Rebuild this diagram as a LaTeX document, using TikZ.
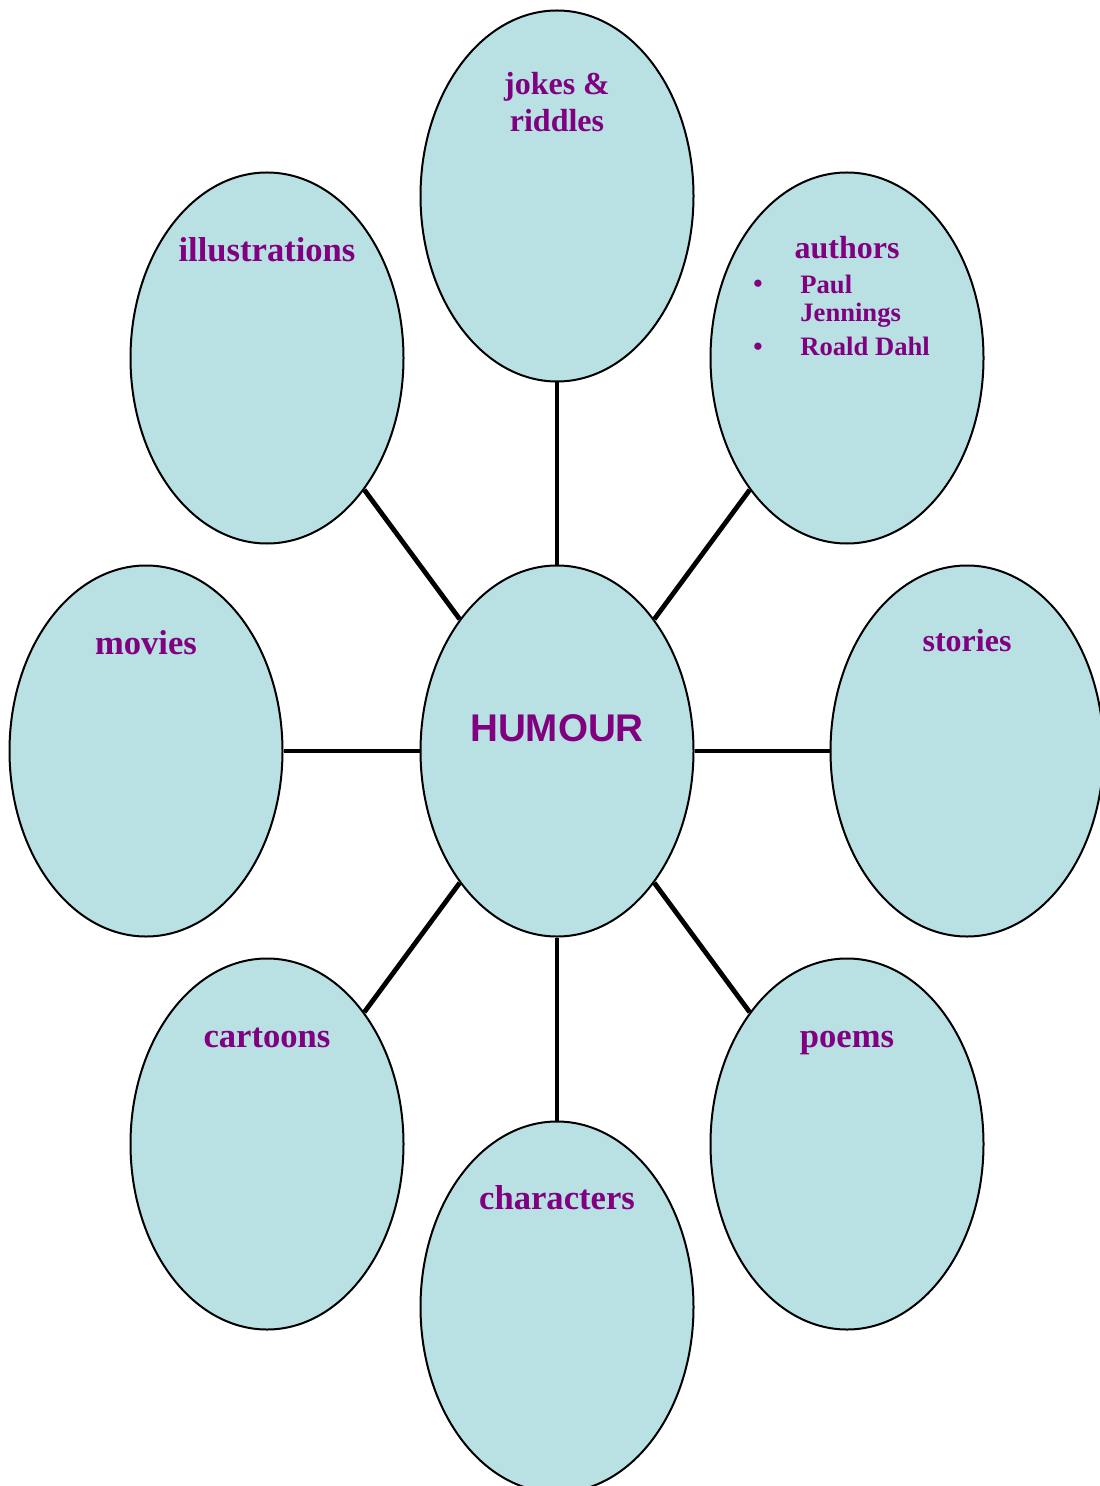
\documentclass[tikz,border=0pt]{standalone}
\usepackage{fontspec}
\usepackage{tikz}
\usepackage{xcolor}
\usetikzlibrary{positioning, shapes.geometric}
\setmainfont{Liberation Serif}
\setsansfont{Liberation Sans}
\definecolor{wbfill}{RGB}{185, 224, 227}
\definecolor{wbpurple}{RGB}{128, 0, 128}
\tikzset{
    wbnode/.style={ellipse, draw, line width=1pt, fill=wbfill, minimum width=136.5pt, minimum height=185.5pt, inner sep=0pt},
    wbtext/.style={anchor=base, align=center, text=wbpurple, font=\fontsize{16}{18.5}\selectfont\bfseries},
    wbbig/.style={wbtext, font=\fontsize{17.3}{20}\selectfont\bfseries},
    wbitem/.style={anchor=base west, align=left, inner sep=0pt, text=wbpurple, font=\fontsize{13.3}{14.2}\selectfont\bfseries},
    hubtext/.style={anchor=base, text=wbpurple, font=\fontsize{19.3}{22}\selectfont\sffamily\bfseries},
    spoke/.style={line width=2.4pt}
}

\begin{document}
\begin{tikzpicture}[x=0.5pt, y=-0.5pt]
    \useasboundingbox (0,0) rectangle (1099,1486);
    % bubbles
    \node[wbnode] (hum) at (557,751) {};
    \node[wbnode] (jok) at (557,196) {};
    \node[wbnode] (ill) at (267,358) {};
    \node[wbnode] (aut) at (847,358) {};
    \node[wbnode] (mov) at (146,751) {};
    \node[wbnode] (sto) at (967,751) {};
    \node[wbnode] (car) at (267,1144) {};
    \node[wbnode] (poe) at (847,1144) {};
    \node[wbnode] (cha) at (557,1307) {};
    % spokes
    \foreach \n in {jok, ill, aut, mov, sto, car, poe, cha}
        \draw[spoke] (hum) -- (\n);
    % texts
    \node[hubtext] (humt) at (557,741) {HUMOUR};
    \node[wbtext] (jokt) at (557,132) {jokes \&\\riddles};
    \node[wbbig] (illt) at (267,262) {illustrations};
    \node[wbtext] (autt) at (847,259) {authors};
    \node[wbbig] (movt) at (146,654) {movies};
    \node[wbtext] (stot) at (967,651) {stories};
    \node[wbbig] (cart) at (267,1047) {cartoons};
    \node[wbbig] (poet) at (847,1047) {poems};
    \node[wbbig] (chat) at (557,1209) {characters};
    % author list
    \node[wbitem, anchor=base] (b1) at (758,293) {\textbullet};
    \node[wbitem] (a1) at (800,322) {Paul\\Jennings};
    \node[wbitem, anchor=base] (b2) at (758,356) {\textbullet};
    \node[wbitem] (a2) at (800,356) {Roald Dahl};
\end{tikzpicture}
\end{document}
